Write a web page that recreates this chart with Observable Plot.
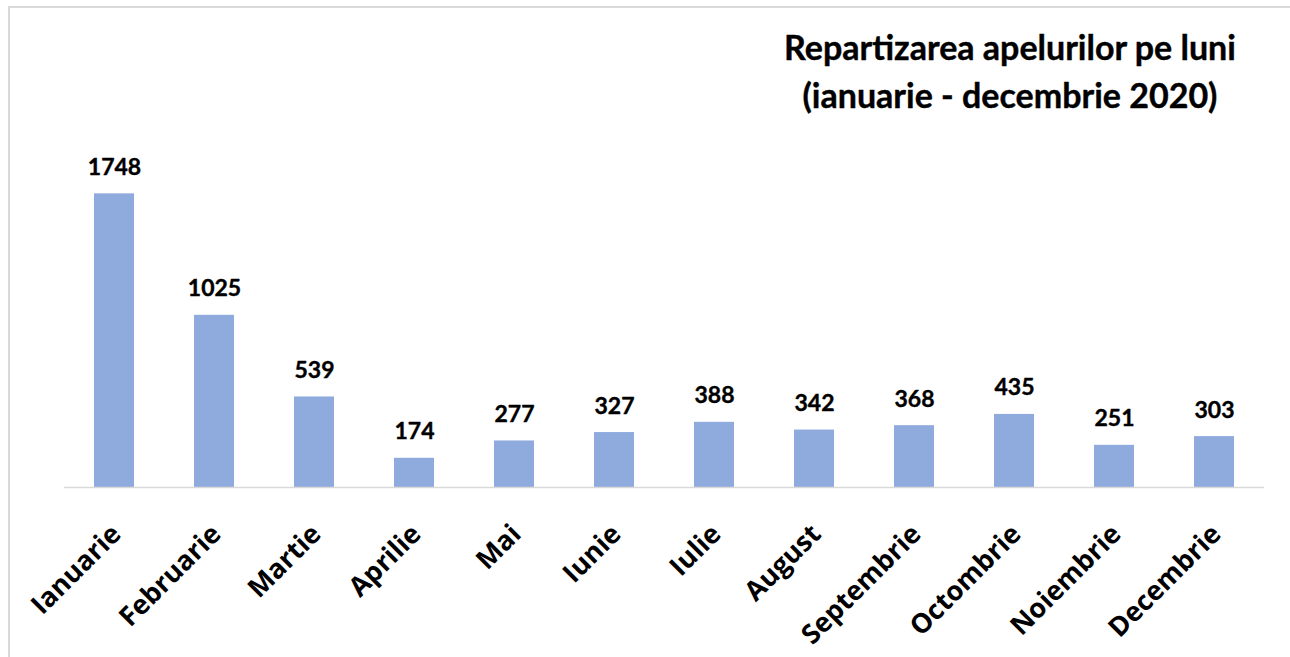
<!DOCTYPE html>
<html>
<head>
<meta charset="utf-8">
<script src="https://cdn.jsdelivr.net/npm/d3@7"></script>
<script src="https://cdn.jsdelivr.net/npm/@observablehq/plot@0.6"></script>
<style>
  html, body { margin: 0; padding: 0; background: #fff; }
  #wrap { position: relative; width: 1290px; height: 657px; overflow: hidden; background: #fff; }
  #frame { position: absolute; left: 8px; top: 6px; width: 1300px; height: 680px; border: 2px solid #d9d9d9; box-sizing: border-box; }
  #chart { position: absolute; left: 0; top: 0; }
  #title { position: absolute; left: 760px; width: 500px; top: 23px; text-align: center;
           font-family: Lato, sans-serif; font-weight: 700; font-size: 34px; line-height: 48px; color: #000;
           -webkit-text-stroke: 0.4px #000; }
</style>
</head>
<body>
<div id="wrap">
  <div id="frame"></div>
  <div id="chart"></div>
  <div id="title">Repartizarea apelurilor pe luni<br>(ianuarie - decembrie 2020)</div>
</div>
<script>
const months = ["Ianuarie", "Februarie", "Martie", "Aprilie", "Mai", "Iunie", "Iulie", "August", "Septembrie", "Octombrie", "Noiembrie", "Decembrie"];
const calls = [1748, 1025, 539, 174, 277, 327, 388, 342, 368, 435, 251, 303];

const data = months.map((m, i) => ({month: m, value: calls[i]}));

const chart = Plot.plot({
  width: 1290,
  height: 657,
  marginLeft: 64,
  marginRight: 26,
  marginTop: 151,
  marginBottom: 170,
  style: {background: "transparent", overflow: "visible"},
  x: {domain: months, paddingInner: 0.6, paddingOuter: 0.3, label: null},
  y: {domain: [0, 2000], axis: null},
  marks: [
    Plot.barY(data, {x: "month", y: "value", fill: "#8faadc"}),
    Plot.ruleY([0], {stroke: "#d9d9d9", strokeWidth: 1.5}),
    Plot.text(data, {x: "month", y: "value", text: d => String(d.value), lineAnchor: "bottom", dy: -19,
      fontFamily: "Lato, sans-serif", fontWeight: 700, fontSize: 23, fill: "#000", stroke: "#000", strokeWidth: 0.4}),
    Plot.axisX({tickRotate: -45, tickSize: 0, tickPadding: 42, dx: 2,
      fontFamily: "'Open Sans', sans-serif", fontWeight: 700, fontSize: 27, fill: "#000", label: null})
  ]
});
document.getElementById("chart").appendChild(chart);
</script>
</body>
</html>
